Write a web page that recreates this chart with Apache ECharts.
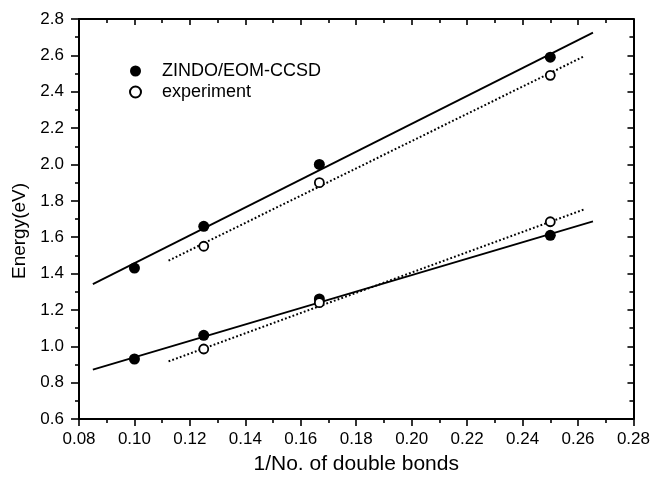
<!DOCTYPE html>
<html>
<head>
<meta charset="utf-8">
<script src="https://cdn.jsdelivr.net/npm/echarts@6/dist/echarts.min.js"></script>
<style>
html,body{margin:0;padding:0;background:#fff;}
#chart{width:653px;height:480px;}
</style>
</head>
<body>
<div id="chart"></div>
<script>
// Excitation energies vs. inverse number of double bonds
const xZindo = [0.10, 0.125, 0.1667, 0.25];
const zindoHigh = [1.43, 1.66, 2.00, 2.59];
const zindoLow = [0.93, 1.06, 1.26, 1.61];
const xExp = [0.125, 0.1667, 0.25];
const expHigh = [1.55, 1.90, 2.49];
const expLow = [0.985, 1.24, 1.685];

// Linear fit lines: [x, y] end points
const fitZindoHigh = [[0.085, 1.342], [0.2654, 2.725]];
const fitZindoLow = [[0.085, 0.872], [0.2654, 1.687]];
const fitExpHigh = [[0.1123, 1.471], [0.2621, 2.594]];
const fitExpLow = [[0.1123, 0.917], [0.2621, 1.752]];

const xTicks = ['0.08','0.10','0.12','0.14','0.16','0.18','0.20','0.22','0.24','0.26','0.28'];
const yTicks = ['0.6','0.8','1.0','1.2','1.4','1.6','1.8','2.0','2.2','2.4','2.6','2.8'];

const seriesNames = ['ZINDO/EOM-CCSD', 'experiment'];

const pair = (xs, ys) => xs.map((x, i) => [x, ys[i]]);
const FONT = 'Liberation Sans, Arial, sans-serif';

const chart = echarts.init(document.getElementById('chart'), null, {renderer: 'canvas'});

const axisLine = {show: true, lineStyle: {color: '#000', width: 2}};
const tickStyle = {color: '#000', width: 1.6};

const baseX = {
  type: 'value', min: 0.08, max: 0.28, interval: 0.02,
  splitLine: {show: false},
  axisLine: axisLine
};
const baseY = {
  type: 'value', min: 0.6, max: 2.8, interval: 0.2,
  splitLine: {show: false},
  axisLine: axisLine
};

const fitLine = (data, dotted) => ({
  type: 'line', data: data, symbol: 'none', silent: true, z: 1,
  lineStyle: {color: '#000', width: dotted ? 2 : 1.8, type: dotted ? [1.8, 2.2] : 'solid'}
});

chart.setOption({
  animation: false,
  backgroundColor: '#fff',
  grid: {left: 79, right: 17, top: 19, bottom: 59},
  legend: {
    data: seriesNames,
    orient: 'vertical', left: 124, top: 57, itemGap: 3,
    itemWidth: 11, itemHeight: 11,
    textStyle: {fontFamily: FONT, fontSize: 18, lineHeight: 14, color: '#000', padding: [0, 0, 0, 16]}
  },
  xAxis: [
    Object.assign({}, baseX, {
      position: 'bottom',
      name: '1/No. of double bonds', nameLocation: 'middle', nameGap: 35,
      nameTextStyle: {fontFamily: FONT, fontSize: 21, color: '#000'},
      axisTick: {show: true, length: 7, lineStyle: tickStyle},
      minorTick: {show: true, splitNumber: 2, length: 4, lineStyle: tickStyle},
      axisLabel: {
        color: '#000', fontFamily: FONT, fontSize: 17, margin: 12,
        formatter: v => xTicks[Math.round((v - 0.08) / 0.02)] || ''
      }
    }),
    Object.assign({}, baseX, {
      position: 'top', axisLabel: {show: false},
      axisTick: {show: true, inside: true, length: 6, lineStyle: tickStyle},
      minorTick: {show: true, splitNumber: 2, length: 4, lineStyle: tickStyle}
    })
  ],
  yAxis: [
    Object.assign({}, baseY, {
      position: 'left',
      name: 'Energy(eV)', nameLocation: 'middle', nameGap: 50, nameRotate: 90,
      nameTextStyle: {fontFamily: FONT, fontSize: 19, color: '#000', padding: [0, 24, 0, 0]},
      axisTick: {show: true, length: 8, lineStyle: tickStyle},
      minorTick: {show: true, splitNumber: 2, length: 4, lineStyle: tickStyle},
      axisLabel: {
        color: '#000', fontFamily: FONT, fontSize: 17, margin: 15,
        formatter: v => yTicks[Math.round((v - 0.6) / 0.2)] || ''
      }
    }),
    Object.assign({}, baseY, {
      position: 'right', axisLabel: {show: false},
      axisTick: {show: true, inside: true, length: 6, lineStyle: tickStyle},
      minorTick: {show: true, splitNumber: 2, length: 4, lineStyle: tickStyle}
    })
  ],
  series: [
    fitLine(fitZindoHigh, false),
    fitLine(fitZindoLow, false),
    fitLine(fitExpHigh, true),
    fitLine(fitExpLow, true),
    {
      name: seriesNames[0], type: 'scatter', z: 3,
      data: pair(xZindo, zindoHigh).concat(pair(xZindo, zindoLow)),
      symbol: 'circle', symbolSize: 11,
      itemStyle: {color: '#000', borderColor: '#000', borderWidth: 0, opacity: 1}
    },
    {
      name: seriesNames[1], type: 'scatter', z: 3,
      data: pair(xExp, expHigh).concat(pair(xExp, expLow)),
      symbol: 'circle', symbolSize: 9,
      itemStyle: {color: '#fff', borderColor: '#000', borderWidth: 1.8, opacity: 1}
    }
  ]
});
</script>
</body>
</html>
